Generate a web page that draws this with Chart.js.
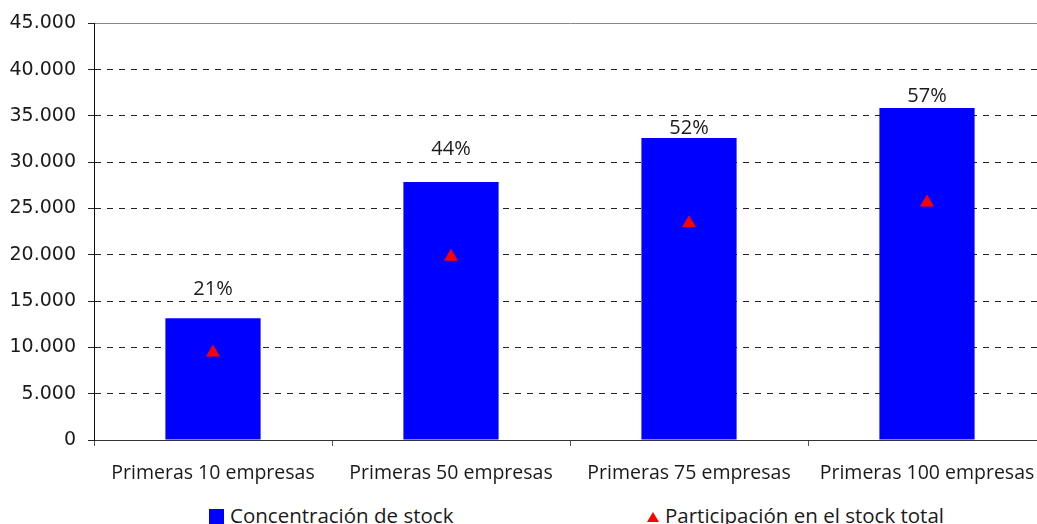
<!DOCTYPE html>
<html lang="es">
<head>
  <meta charset="UTF-8" />
  <title>Concentración de stock</title>
  <script src="https://cdn.jsdelivr.net/npm/chart.js"></script>
  <style>
    html, body { margin: 0; padding: 0; background: #fff; overflow: hidden; }
    #wrap { position: relative; width: 1037px; height: 524px; overflow: hidden; }
    #stockChart { position: absolute; left: 0; top: 0; }
    .legend { position: absolute; top: 502px; font-family: "Open Sans", sans-serif; font-size: 20.5px; color: #1a1a1a; white-space: nowrap; line-height: 27px; }
    .swatch { display: inline-block; width: 15px; height: 15px; background: #0000ff; vertical-align: -1px; margin-right: 6px; }
    .tri { display: inline-block; width: 0; height: 0; border-left: 6px solid transparent; border-right: 6px solid transparent; border-bottom: 10px solid #ff0000; vertical-align: 1px; margin-right: 6px; }
  </style>
</head>
<body>
  <div id="wrap">
    <canvas id="stockChart" width="1054" height="500"></canvas>
    <div class="legend" style="left: 209px;"><span class="swatch"></span>Concentración de stock</div>
    <div class="legend" style="left: 647px;"><span class="tri"></span>Participación en el stock total</div>
  </div>

  <script>
    const categories = ['Primeras 10 empresas', 'Primeras 50 empresas', 'Primeras 75 empresas', 'Primeras 100 empresas'];
    const stockValues = [13150, 27880, 32620, 35850];
    const shareValues = [0.21, 0.44, 0.52, 0.57];
    const yTicks = [0, 5000, 10000, 15000, 20000, 25000, 30000, 35000, 40000, 45000];

    // pixel lift of each percentage label above its bar
    const labelLift = [23, 27, 4, 6];

    const shareLabels = {
      id: 'shareLabels',
      afterDatasetsDraw(chart) {
        const ctx = chart.ctx;
        const bars = chart.getDatasetMeta(1).data;
        ctx.save();
        ctx.font = '20px "Open Sans", sans-serif';
        ctx.fillStyle = '#1a1a1a';
        ctx.textAlign = 'center';
        ctx.textBaseline = 'alphabetic';
        bars.forEach((bar, i) => {
          ctx.fillText(Math.round(shareValues[i] * 100) + '%', bar.x, bar.y - labelLift[i]);
        });
        ctx.restore();
      }
    };

    const fmt = v => v === 0 ? '0' : v.toLocaleString('de-DE');

    new Chart(document.getElementById('stockChart'), {
      type: 'bar',
      data: {
        labels: categories,
        datasets: [
          {
            type: 'line',
            label: 'Participación en el stock total',
            data: shareValues,
            yAxisID: 'y2',
            showLine: false,
            pointStyle: 'triangle',
            pointRadius: 8,
            pointBackgroundColor: '#ff0000',
            pointBorderColor: '#ff0000',
            pointBorderWidth: 0,
            order: 0
          },
          {
            label: 'Concentración de stock',
            data: stockValues,
            backgroundColor: '#0000ff',
            borderWidth: 0,
            categoryPercentage: 1,
            barPercentage: 0.4,
            order: 1
          }
        ]
      },
      options: {
        responsive: false,
        animation: false,
        layout: { padding: { top: 22, right: 2, left: 0, bottom: 0 } },
        plugins: {
          legend: { display: false },
          tooltip: { enabled: false }
        },
        scales: {
          x: {
            grid: { drawOnChartArea: false, offset: true, tickLength: 6, color: '#555' },
            border: { color: '#333', width: 1 },
            ticks: {
              font: { family: '"Open Sans", sans-serif', size: 19.5 },
              color: '#1a1a1a',
              padding: 16,
              maxRotation: 0
            },
            afterFit: scale => {
              scale.height = 60;
              scale.paddingLeft = 0;
              scale.paddingRight = 0;
            }
          },
          y: {
            min: 0,
            max: 45000,
            afterBuildTicks: scale => { scale.ticks = yTicks.map(v => ({ value: v })); },
            grid: {
              color: ctx => ctx.tick && ctx.tick.value === 45000 ? '#888' : '#222',
              tickColor: '#222',
              tickLength: 6
            },
            border: {
              color: '#111',
              width: 1,
              dash: ctx => ctx.tick && (ctx.tick.value === 45000 || ctx.tick.value === 0) ? [] : [6, 6]
            },
            ticks: {
              font: { family: '"DejaVu Sans", sans-serif', size: 19 },
              color: '#1a1a1a',
              padding: 12,
              callback: v => fmt(v)
            },
            afterFit: scale => { scale.width = 94; }
          },
          y2: {
            display: false,
            min: 0,
            max: 1
          }
        }
      },
      plugins: [shareLabels]
    });
  </script>
</body>
</html>
